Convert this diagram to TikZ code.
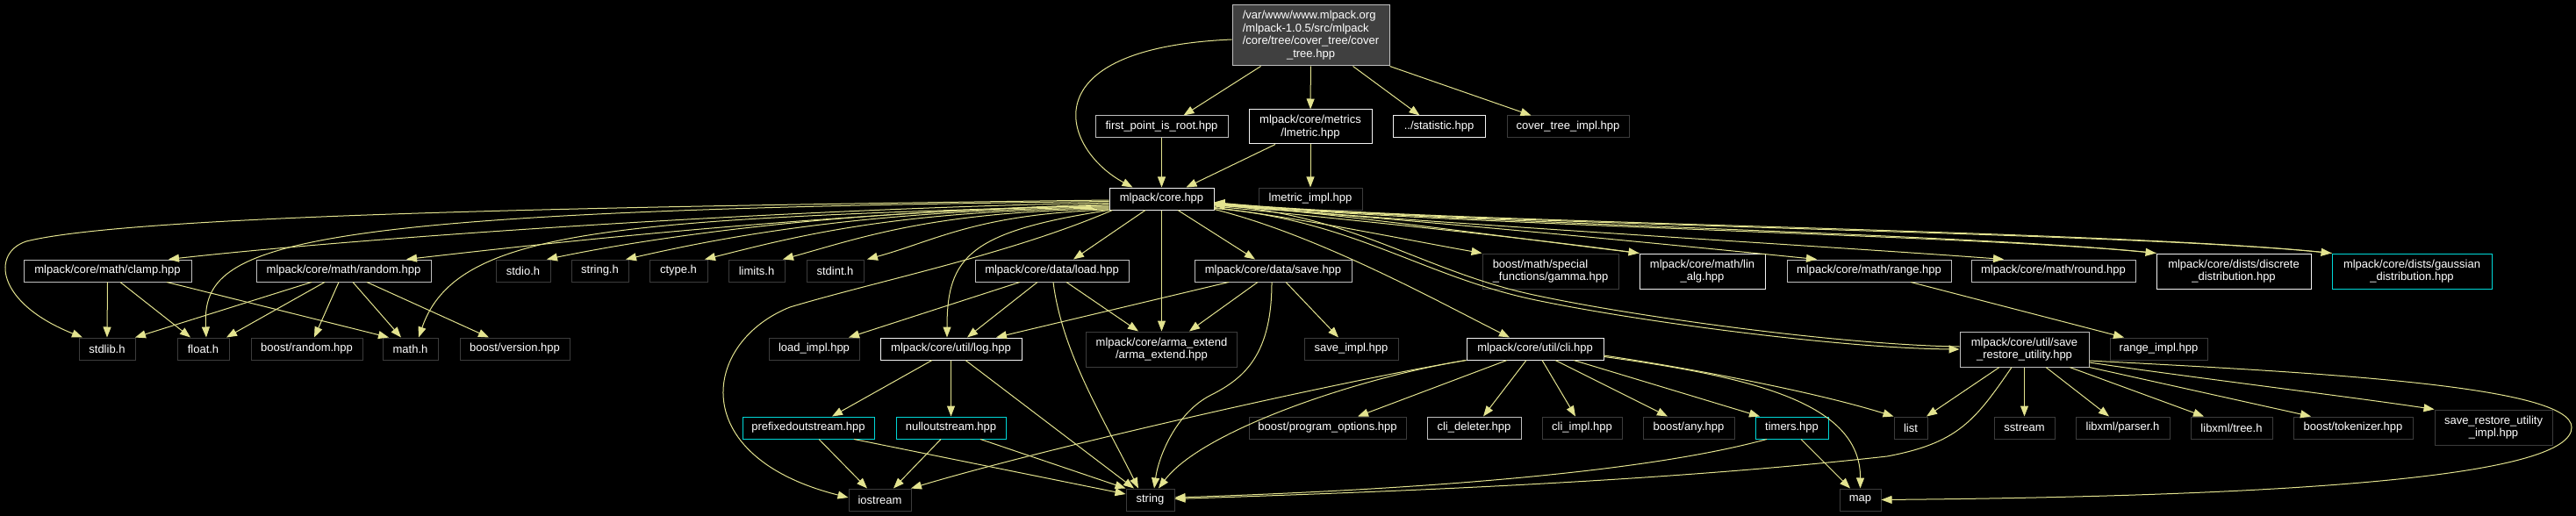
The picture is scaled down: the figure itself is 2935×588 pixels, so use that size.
\documentclass[tikz,border=0pt]{standalone}
\usepackage{fontspec}
\setmainfont{Liberation Sans}
\usetikzlibrary{arrows.meta}
\definecolor{edgeline}{HTML}{E3E38F}
\definecolor{docborder}{HTML}{F2F2F2}
\definecolor{subborder}{HTML}{BFBFBF}
\definecolor{extborder}{HTML}{3C3C3C}
\definecolor{tplborder}{HTML}{00D8D8}
\definecolor{rootfill}{HTML}{404040}

\begin{document}
\begin{tikzpicture}[
    x=1pt, y=-1pt,
    >={Triangle[length=12pt, width=9pt]},
    incl/.style={rectangle, inner xsep=2pt, inner ysep=1pt, line width=1pt,
                 font=\fontsize{13}{14.5}\selectfont, text=white, align=center,
                 minimum height=25pt},
    docbox/.style={incl, draw=docborder},
    subbox/.style={incl, draw=subborder},
    extbox/.style={incl, draw=extborder},
    tplbox/.style={incl, draw=tplborder},
    tall/.style={minimum height=40pt},
    dep/.style={->, draw=edgeline, line width=1pt},
]
\path[use as bounding box, fill=black] (0,0) rectangle (2935,588);

% top
\node[subbox, fill=rootfill, minimum width=179pt, minimum height=69pt] (root) at (1493.5,40.5)
  {\begin{tabular}{@{}l@{}}/var/www/www.mlpack.org\\/mlpack-1.0.5/src/mlpack\\/core/tree/cover\_tree/cover\\\multicolumn{1}{@{}c@{}}{\_tree.hpp}\end{tabular}};

\node[subbox, minimum width=151pt] (fpr) at (1323.5,144.5) {first\_point\_is\_root.hpp};
\node[docbox, tall, minimum width=140pt, minimum height=39pt] (lmetric) at (1493,144.5) {mlpack/core/metrics\\/lmetric.hpp};
\node[docbox, minimum width=105pt] (statistic) at (1639.5,144.5) {../statistic.hpp};
\node[extbox, minimum width=139pt] (ctimpl) at (1786.5,144.5) {cover\_tree\_impl.hpp};

\node[docbox, minimum width=119pt] (core) at (1323.5,226.5) {mlpack/core.hpp};
\node[extbox, minimum width=118pt] (lmimpl) at (1493,226.5) {lmetric\_impl.hpp};

% row under core.hpp
\node[subbox, minimum width=191pt] (clamp) at (122.5,308.5) {mlpack/core/math/clamp.hpp};
\node[subbox, minimum width=199pt] (random) at (391.5,308.5) {mlpack/core/math/random.hpp};
\node[extbox, minimum width=62pt] (stdio) at (596,308.5) {stdio.h};
\node[extbox, minimum width=65pt] (stringh) at (683.5,308.5) {string.h};
\node[extbox, minimum width=66pt] (ctype) at (773,308.5) {ctype.h};
\node[extbox, minimum width=64pt] (limits) at (862,308.5) {limits.h};
\node[extbox, minimum width=65pt] (stdint) at (951.5,308.5) {stdint.h};
\node[subbox, minimum width=175pt] (load) at (1198.5,308.5) {mlpack/core/data/load.hpp};
\node[subbox, minimum width=179pt] (save) at (1450.5,308.5) {mlpack/core/data/save.hpp};
\node[extbox, tall, minimum width=155pt, align=left] (gamma) at (1766.5,309) {boost/math/special\\\_functions/gamma.hpp};
\node[docbox, tall, minimum width=143pt] (linalg) at (1939.5,309) {mlpack/core/math/lin\\\_alg.hpp};
\node[subbox, minimum width=187pt] (range) at (2129.5,308.5) {mlpack/core/math/range.hpp};
\node[subbox, minimum width=187pt] (round) at (2339.5,308.5) {mlpack/core/math/round.hpp};
\node[docbox, tall, minimum width=176pt] (discrete) at (2545,309) {mlpack/core/dists/discrete\\\_distribution.hpp};
\node[tplbox, tall, minimum width=182pt] (gaussian) at (2748,309) {mlpack/core/dists/gaussian\\\_distribution.hpp};

% next row
\node[extbox, minimum width=64pt] (stdlib) at (122,397.5) {stdlib.h};
\node[extbox, minimum width=59pt] (floath) at (231.5,397.5) {float.h};
\node[extbox, minimum width=127pt] (brandom) at (349.5,397.5) {boost/random.hpp};
\node[extbox, minimum width=63pt] (mathh) at (467.5,397.5) {math.h};
\node[extbox, minimum width=125pt] (bversion) at (586.5,397.5) {boost/version.hpp};
\node[extbox, minimum width=103pt] (loadimpl) at (927.5,397.5) {load\_impl.hpp};
\node[docbox, minimum width=161pt] (log) at (1083.5,397.5) {mlpack/core/util/log.hpp};
\node[extbox, tall, minimum width=172pt] (arma) at (1323.5,398) {mlpack/core/arma\_extend\\/arma\_extend.hpp};
\node[extbox, minimum width=107pt] (saveimpl) at (1539.5,397.5) {save\_impl.hpp};
\node[docbox, minimum width=156pt] (cli) at (1749,397.5) {mlpack/core/util/cli.hpp};
\node[subbox, tall, minimum width=147pt] (sru) at (2306.5,398) {mlpack/core/util/save\\\_restore\_utility.hpp};
\node[extbox, minimum width=111pt] (rangeimpl) at (2459.5,397.5) {range\_impl.hpp};

\node[tplbox, minimum width=150pt] (prefixed) at (921,487.5) {prefixedoutstream.hpp};
\node[tplbox, minimum width=125pt] (nullout) at (1083.5,487.5) {nulloutstream.hpp};
\node[extbox, minimum width=179pt] (progopt) at (1512.5,487.5) {boost/program\_options.hpp};
\node[subbox, minimum width=107pt] (clideleter) at (1679.5,487.5) {cli\_deleter.hpp};
\node[extbox, minimum width=91pt] (cliimpl) at (1802.5,487.5) {cli\_impl.hpp};
\node[extbox, minimum width=104pt] (bany) at (1924,487.5) {boost/any.hpp};
\node[tplbox, minimum width=83pt] (timers) at (2041.5,487.5) {timers.hpp};
\node[extbox, minimum width=38pt] (list) at (2177,487.5) {list};
\node[extbox, minimum width=69pt] (sstream) at (2306.5,487.5) {sstream};
\node[extbox, minimum width=107pt] (xmlparser) at (2418.5,487.5) {libxml/parser.h};
\node[extbox, minimum width=93pt] (xmltree) at (2542.5,487.5) {libxml/tree.h};
\node[extbox, minimum width=136pt] (tokenizer) at (2681,487.5) {boost/tokenizer.hpp};
\node[extbox, tall, minimum width=134pt] (sruimpl) at (2841,487) {save\_restore\_utility\\\_impl.hpp};

\node[extbox, minimum width=71pt] (iostream) at (1002.5,569.5) {iostream};
\node[extbox, minimum width=55pt] (string) at (1310.5,569.5) {string};
\node[extbox, minimum width=47pt] (map) at (2119.5,569.5) {map};

% cover_tree.hpp
\draw[dep] ([xshift=-57pt]root.south) -- ([xshift=25pt]fpr.north);
\draw[dep] (root) -- (lmetric);
\draw[dep] ([xshift=48pt]root.south) -- ([xshift=-22pt]statistic.north);
\draw[dep] (root.south east) -- ([xshift=-42pt]ctimpl.north);
\draw[dep] ([yshift=-4.5pt]root.west) .. controls (1170,55) and (1210,170) .. ([xshift=-33pt]core.north);

\draw[dep] (fpr) -- (core);
\draw[dep] ([xshift=-40pt]lmetric.south) -- ([xshift=28pt]core.north);
\draw[dep] (lmetric) -- (lmimpl);

% core.hpp, left side
\draw[dep] ([yshift=-1.5pt]core.west) .. controls (700,235) and (150,245) .. (30,275)
  .. controls (-10,288) and (-5,345) .. ([xshift=-28pt]stdlib.north);
\draw[dep] ([yshift=-3pt]core.west) .. controls (300,240) and (230,280) .. ([xshift=3.5pt]floath.north);
\draw[dep] ([yshift=-4.5pt]core.west) .. controls (900,238) and (420,270) .. ([xshift=69.5pt]clamp.north);
\draw[dep] ([yshift=-6pt]core.west) .. controls (900,245) and (600,280) .. ([xshift=71.5pt]random.north);
\draw[dep] ([yshift=-7.5pt]core.west) .. controls (700,250) and (520,260) .. ([xshift=9.5pt]mathh.north);
\draw[dep] ([yshift=-8.5pt]core.west) .. controls +(-300,3) and +(120,-25) .. ([xshift=27pt]stdio.north);
\draw[dep] ([yshift=-9.5pt]core.west) .. controls +(-280,3) and +(110,-25) .. ([xshift=29.5pt]stringh.north);
\draw[dep] ([yshift=-10.5pt]core.west) .. controls +(-250,3) and +(100,-25) .. ([xshift=30pt]ctype.north);
\draw[dep] ([yshift=-11.5pt]core.west) .. controls +(-200,3) and +(90,-25) .. ([xshift=30pt]limits.north);
\draw[dep] ([yshift=-12.5pt]core.west) .. controls +(-150,5) and +(80,-22) .. ([xshift=36.5pt]stdint.north);
\draw[dep] ([xshift=4pt]core.south west) .. controls (1150,290) and (1000,320) .. (900,350)
  .. controls (800,390) and (780,520) .. ([yshift=2.5pt]iostream.west);
\draw[dep] (core.south west) .. controls (1104,264) and (1079,293) .. ([xshift=-4.5pt]log.north);

% core.hpp, below
\draw[dep] ([xshift=-18.5pt]core.south) -- ([xshift=24.5pt]load.north);
\draw[dep] (core) -- (arma);
\draw[dep] ([xshift=18.5pt]core.south) -- ([xshift=-20.5pt]save.north);

% core.hpp, right side
\draw[dep] ([yshift=-4.5pt]core.east) .. controls +(250,25) and +(-250,-25) .. (gaussian.north west);
\draw[dep] ([yshift=-5.5pt]core.east) .. controls +(250,24) and +(-200,-20) .. (discrete.north west);
\draw[dep] ([yshift=-6.5pt]core.east) .. controls +(250,22) and +(-200,-15) .. ([xshift=-56.5pt]round.north);
\draw[dep] ([yshift=-7.5pt]core.east) .. controls +(250,18) and +(-150,-15) .. ([xshift=-59.5pt]range.north);
\draw[dep] ([yshift=-8.5pt]core.east) .. controls +(150,15) and +(-150,-20) .. (linalg.north west);
\draw[dep] ([yshift=-10pt]core.east) .. controls +(100,12) and +(-80,-14) .. (gamma.north west);
\draw[dep] ([yshift=-12pt]core.east) .. controls +(120,30) and +(-80,-40) .. ([xshift=-29pt]cli.north);
\draw[dep] ([yshift=-11pt]core.east) .. controls (1540,250) and (1620,315) .. (1750,342)
  .. controls (1870,367) and (2100,397) .. (sru.west);

% back to core.hpp
\draw[dep] ([yshift=3pt]sru.west) .. controls (2100,393) and (1870,362) .. (1752,337)
  .. controls (1625,311) and (1545,246) .. ([yshift=-7pt]core.east);
\draw[dep] (linalg.north west) .. controls +(-150,-18) and +(150,12) .. ([yshift=-6pt]core.east);
\draw[dep] (discrete.north west) .. controls +(-200,-22) and +(250,22) .. ([yshift=-5pt]core.east);
\draw[dep] (gaussian.north west) .. controls +(-250,-27) and +(250,24) .. ([yshift=-4pt]core.east);

% math
\draw[dep] (clamp.south) -- (stdlib.north);
\draw[dep] ([xshift=14.5pt]clamp.south) -- ([xshift=-14.5pt]floath.north);
\draw[dep] ([xshift=67.5pt]clamp.south) -- ([xshift=-24.5pt]mathh.north);
\draw[dep] ([xshift=-36.5pt]random.south) -- ([xshift=32pt]stdlib.north);
\draw[dep] ([xshift=-21.5pt]random.south) -- ([xshift=26.5pt]floath.north);
\draw[dep] ([xshift=-5.5pt]random.south) -- ([xshift=8.5pt]brandom.north);
\draw[dep] ([xshift=10.5pt]random.south) -- ([xshift=-10.5pt]mathh.north);
\draw[dep] ([xshift=26.5pt]random.south) -- ([xshift=-29.5pt]bversion.north);
\draw[dep] ([xshift=47.5pt]range.south) -- ([xshift=-39.5pt]rangeimpl.north);

% data
\draw[dep] ([xshift=-36.5pt]load.south) -- ([xshift=39.5pt]loadimpl.north);
\draw[dep] ([xshift=-16.5pt]load.south) -- ([xshift=18.5pt]log.north);
\draw[dep] ([xshift=1.5pt]load.south) .. controls +(10,80) and +(-40,-80) .. ([xshift=-13.5pt]string.north);
\draw[dep] ([xshift=16.5pt]load.south) -- ([xshift=-26.5pt]arma.north);
\draw[dep] ([xshift=-50.5pt]save.south) -- ([xshift=51.5pt]log.north);
\draw[dep] ([xshift=-17.5pt]save.south) -- ([xshift=31.5pt]arma.north);
\draw[dep] ([xshift=-1.5pt]save.south) .. controls +(0,80) and (1420,430) .. (1380,450)
  .. controls (1340,470) and (1320,520) .. ([xshift=4.5pt]string.north);
\draw[dep] ([xshift=14.5pt]save.south) -- ([xshift=-14.5pt]saveimpl.north);

% log
\draw[dep] ([xshift=-21.5pt]log.south) -- ([xshift=27pt]prefixed.north);
\draw[dep] (log) -- (nullout);
\draw[dep] ([xshift=16.5pt]log.south) -- ([xshift=-18.5pt]string.north);
\draw[dep] ([xshift=12pt]prefixed.south) -- ([xshift=-14.5pt]iostream.north);
\draw[dep] ([xshift=52pt]prefixed.south) -- ([yshift=6.5pt]string.west);
\draw[dep] ([xshift=-11.5pt]nullout.south) -- ([xshift=15.5pt]iostream.north);
\draw[dep] ([xshift=33.5pt]nullout.south) -- (string.north west);

% cli
\draw[dep] (cli.south west) .. controls +(-150,25) and +(150,-45) .. ([xshift=35.5pt]iostream.north);
\draw[dep] (cli.south west) .. controls (1550,430) and (1370,490) .. ([xshift=9.5pt]string.north);
\draw[dep] ([xshift=-32pt]cli.south) -- ([xshift=34.5pt]progopt.north);
\draw[dep] ([xshift=-10pt]cli.south) -- ([xshift=10.5pt]clideleter.north);
\draw[dep] ([xshift=8pt]cli.south) -- ([xshift=-7.5pt]cliimpl.north);
\draw[dep] ([xshift=23pt]cli.south) -- ([xshift=-24pt]bany.north);
\draw[dep] ([xshift=44pt]cli.south) -- ([xshift=-36.5pt]timers.north);
\draw[dep] ([yshift=-7.5pt]cli.east) .. controls +(120,18) and +(-80,-25) .. (list.north west);
\draw[dep] ([yshift=-9pt]cli.east) .. controls (2000,430) and (2120,460) .. (map.north);
\draw[dep] ([xshift=-28.5pt]timers.south) .. controls +(-110,30) and +(360,-12) .. ([yshift=2.5pt]string.east);
\draw[dep] ([xshift=10.5pt]timers.south) -- ([xshift=-11.5pt]map.north);

% save_restore_utility
\draw[dep] ([xshift=-28.5pt]sru.south) -- ([xshift=18pt]list.north);
\draw[dep] ([xshift=-14.5pt]sru.south) .. controls (2250,480) and (2230,505) .. (2150,520)
  .. controls (1900,548) and (1600,560) .. ([yshift=1pt]string.east);
\draw[dep] (sru) -- (sstream);
\draw[dep] ([xshift=24.5pt]sru.south) -- ([xshift=-15.5pt]xmlparser.north);
\draw[dep] ([xshift=51.5pt]sru.south) -- ([xshift=-31.5pt]xmltree.north);
\draw[dep] (sru.south east) -- ([xshift=-48pt]tokenizer.north);
\draw[dep] ([yshift=-15pt]sru.east) .. controls +(100,15) and +(-100,-15) .. (sruimpl.north west);
\draw[dep] ([yshift=-13pt]sru.east) .. controls (2650,425) and (2930,440) .. (2930,487)
  .. controls (2930,540) and (2650,565) .. (map.east);

\end{tikzpicture}
\end{document}
